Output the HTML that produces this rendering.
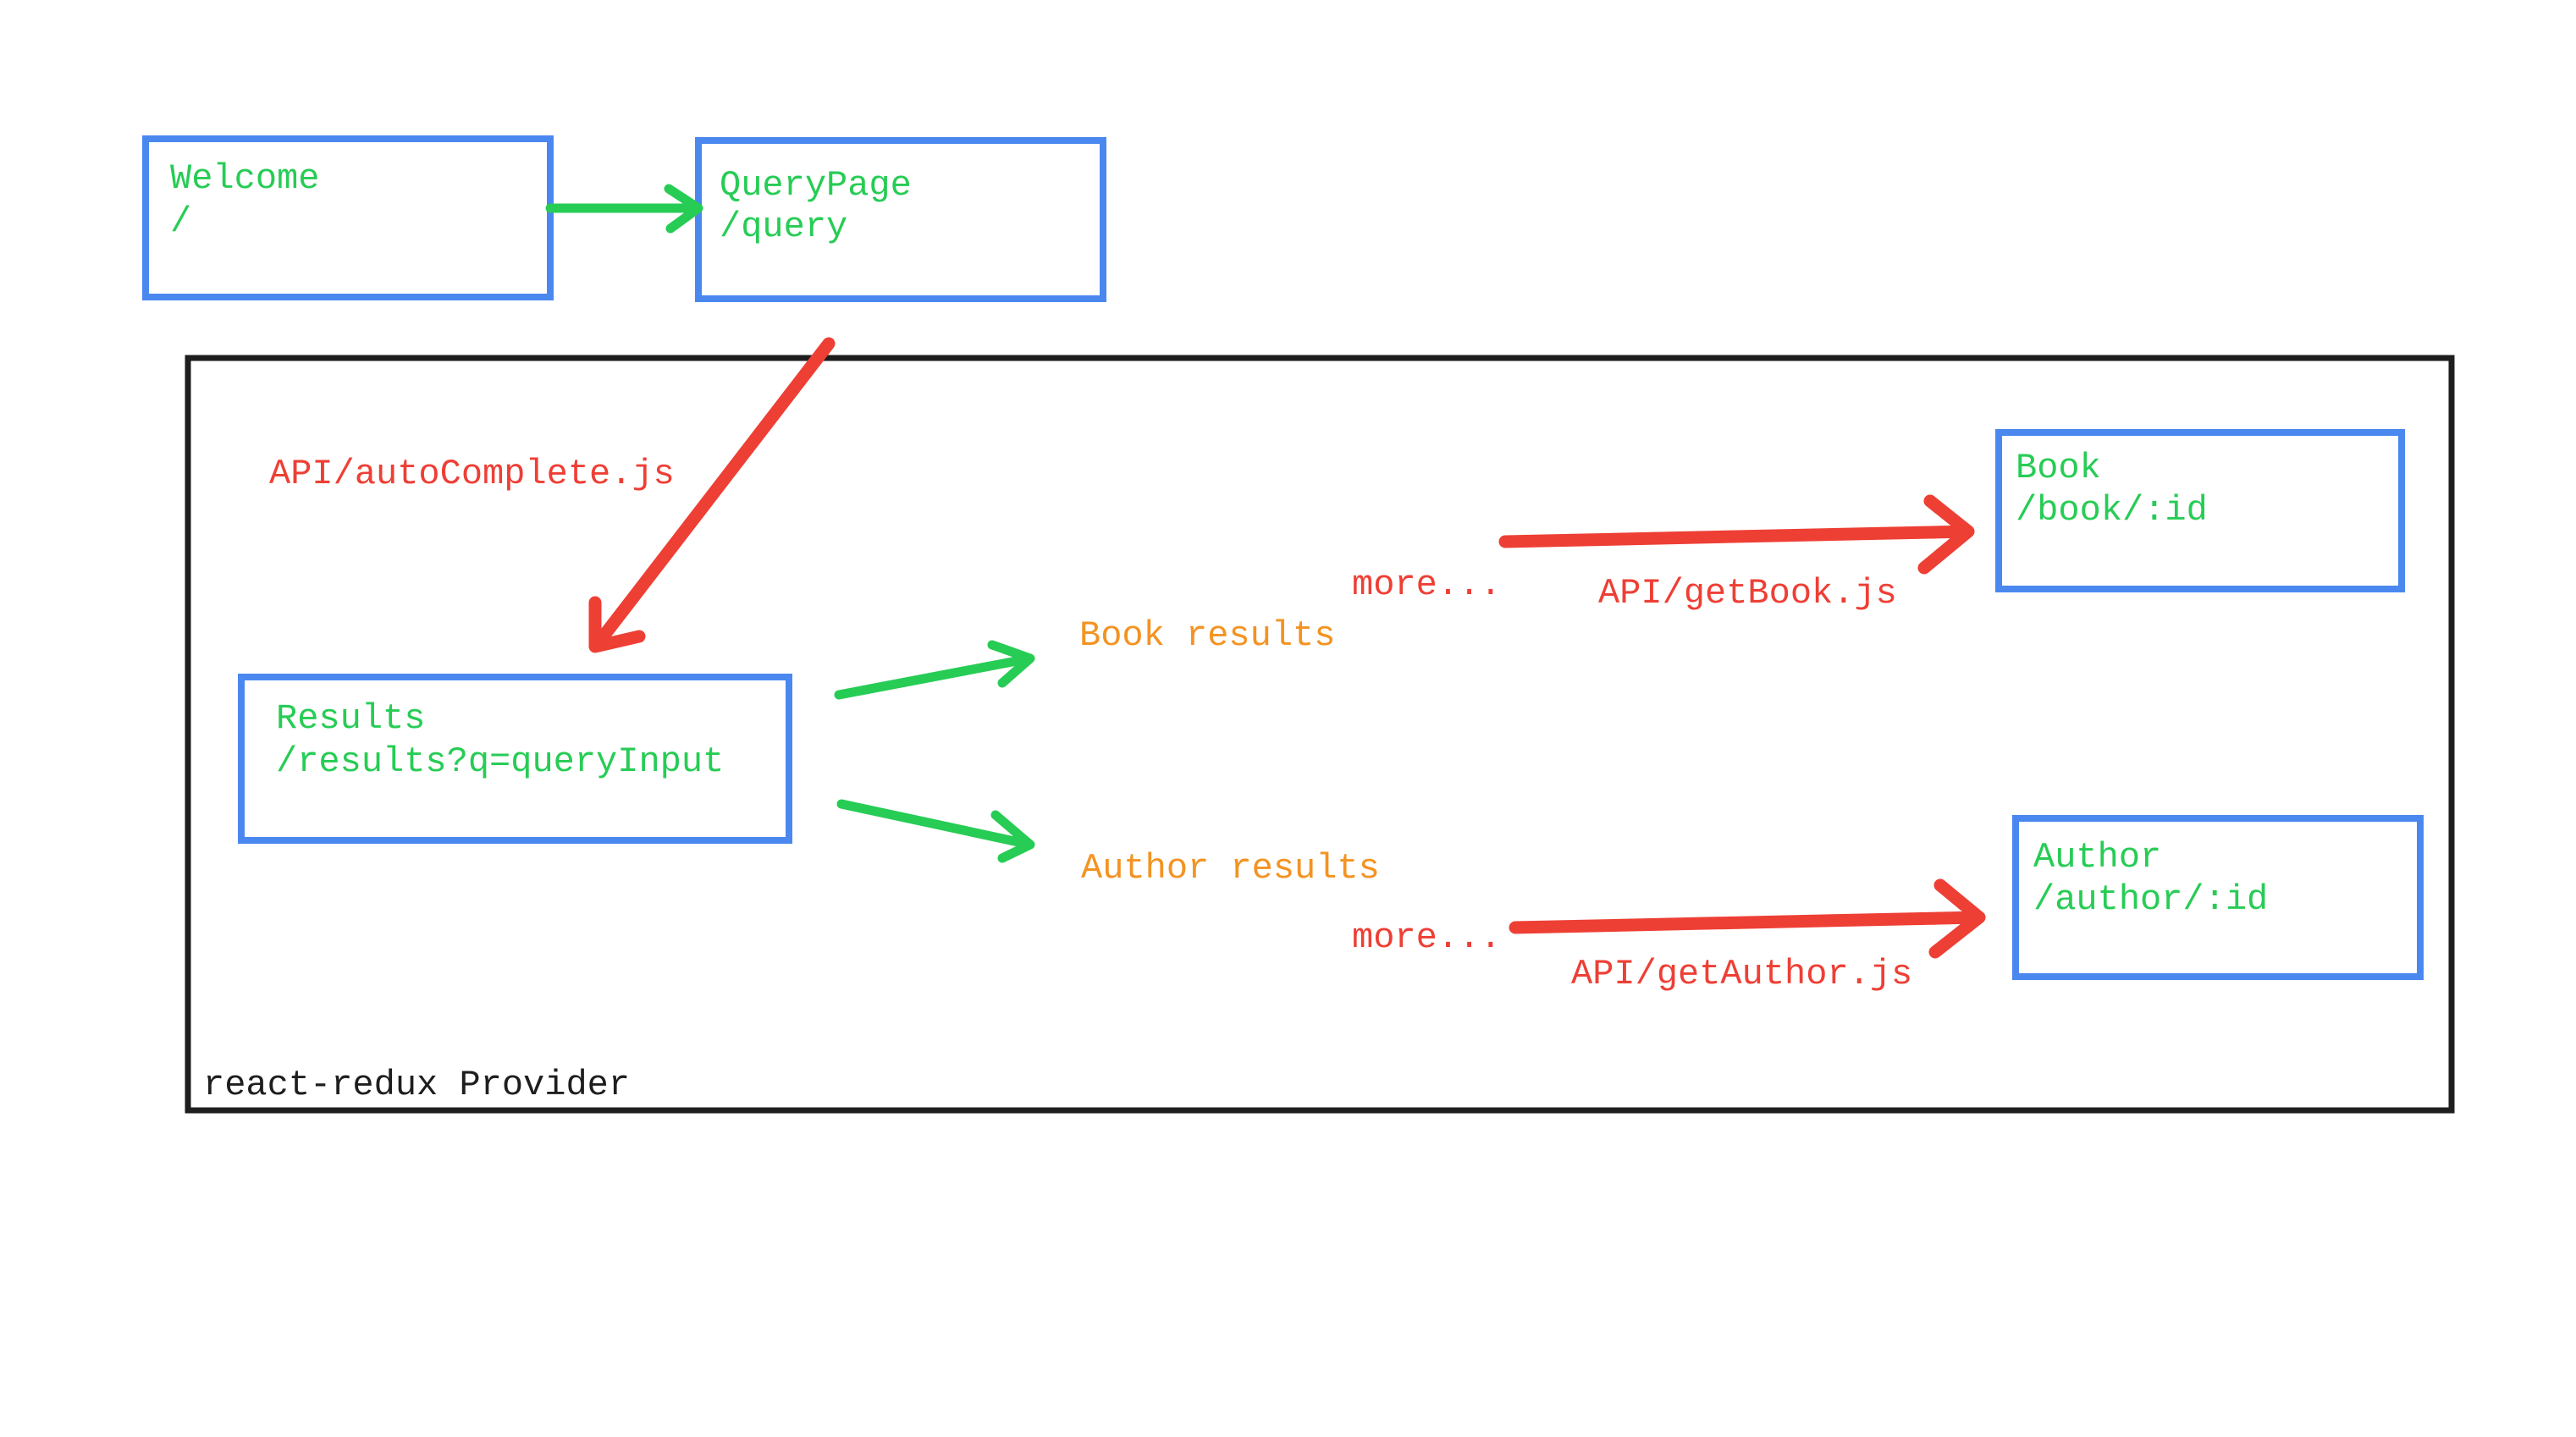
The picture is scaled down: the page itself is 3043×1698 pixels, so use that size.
<!DOCTYPE html>
<html><head><meta charset="utf-8"><style>
html,body{margin:0;padding:0;background:#fff;}
svg{display:block;}
text{font-family:"Liberation Mono",monospace;font-size:42px;}
</style></head><body>
<svg width="3043" height="1698" viewBox="0 0 3043 1698" xmlns="http://www.w3.org/2000/svg">
<rect width="3043" height="1698" fill="#fff"/>
<!-- container -->
<rect x="222" y="423" width="2674" height="889" fill="none" stroke="#1e1e1e" stroke-width="7"/>
<text x="240" y="1293" fill="#1e1e1e">react-redux Provider</text>
<!-- boxes -->
<g fill="none" stroke="#4a88f0" stroke-width="8">
<rect x="172" y="164" width="478" height="187"/>
<rect x="825" y="166" width="478" height="187"/>
<rect x="285" y="800" width="647" height="193"/>
<rect x="2361" y="511" width="476" height="185"/>
<rect x="2381" y="967" width="478" height="187"/>
</g>
<g fill="#27cc55">
<text x="201" y="222">Welcome</text>
<text x="201" y="273">/</text>
<text x="850" y="230">QueryPage</text>
<text x="850" y="279">/query</text>
<text x="326" y="860">Results</text>
<text x="326" y="911">/results?q=queryInput</text>
<text x="2381" y="564">Book</text>
<text x="2381" y="614">/book/:id</text>
<text x="2402" y="1024">Author</text>
<text x="2402" y="1074">/author/:id</text>
</g>
<g fill="#f39322">
<text x="1275" y="762">Book results</text>
<text x="1277" y="1037">Author results</text>
</g>
<g fill="#ee3f35">
<text x="318" y="571">API/autoComplete.js</text>
<text x="1597" y="702">more...</text>
<text x="1597" y="1119">more...</text>
<text x="1888" y="712">API/getBook.js</text>
<text x="1856" y="1162">API/getAuthor.js</text>
</g>
<!-- green arrows -->
<g fill="none" stroke="#27cc55" stroke-width="11" stroke-linecap="round" stroke-linejoin="round">
<path d="M650 246 L825 246 M790 223 L825 246 L792 270"/>
<path d="M991 821 L1217 778 M1172 762 L1217 778 L1184 807"/>
<path d="M994 950 L1217 998 M1176 963 L1217 998 L1184 1014"/>
</g>
<!-- red arrows -->
<g fill="none" stroke="#ee3f35" stroke-width="15" stroke-linecap="round" stroke-linejoin="round">
<path d="M979 406 L705 762 M703 712 L703 764 L755 752"/>
<path d="M1778 640 L2325 628 M2280 592 L2325 628 L2273 671"/>
<path d="M1790 1096 L2338 1084 M2292 1046 L2338 1084 L2286 1125"/>
</g>
</svg>
</body></html>
